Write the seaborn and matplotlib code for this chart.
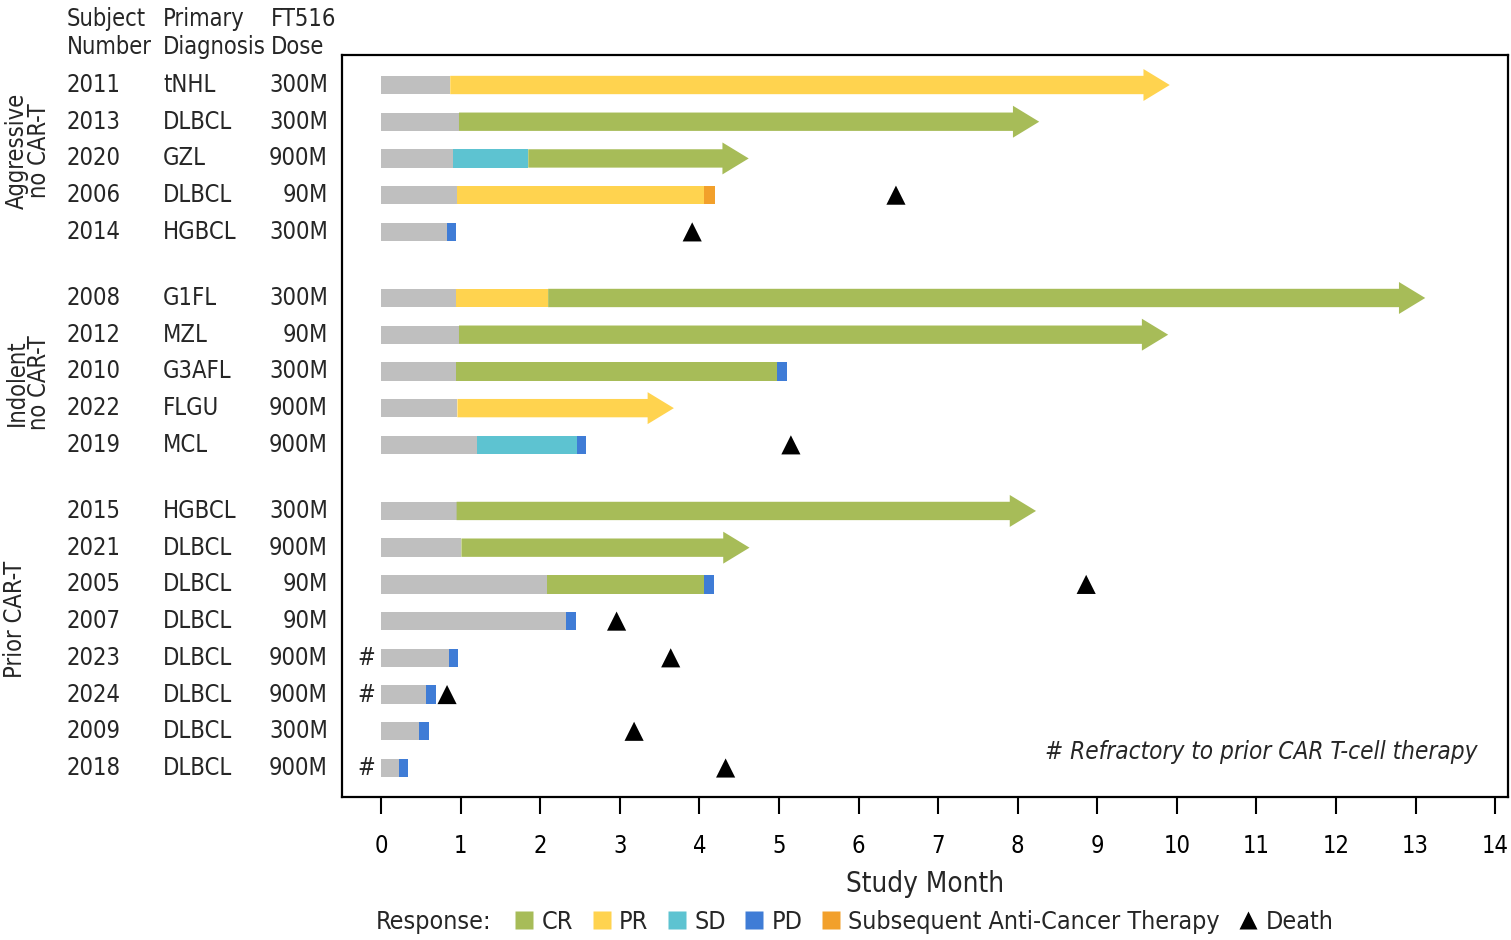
import matplotlib
matplotlib.use("Agg")
import matplotlib.pyplot as plt
import matplotlib.transforms as mtransforms
from matplotlib.patches import Polygon, Rectangle
from matplotlib.lines import Line2D
from matplotlib import font_manager
import seaborn as sns
import pandas as pd

# ---- data -------------------------------------------------------------
subjects = ["2011", "2013", "2020", "2006", "2014",
            "2008", "2012", "2010", "2022", "2019",
            "2015", "2021", "2005", "2007", "2023", "2024", "2009", "2018"]
diagnosis = ["tNHL", "DLBCL", "GZL", "DLBCL", "HGBCL",
             "G1FL", "MZL", "G3AFL", "FLGU", "MCL",
             "HGBCL", "DLBCL", "DLBCL", "DLBCL", "DLBCL", "DLBCL", "DLBCL", "DLBCL"]
dose = ["300M", "300M", "900M", "90M", "300M",
        "300M", "90M", "300M", "900M", "900M",
        "300M", "900M", "90M", "90M", "900M", "900M", "300M", "900M"]
cohort = [0] * 5 + [1] * 5 + [2] * 8
cohort_names = ["Aggressive\nno CAR-T", "Indolent\nno CAR-T", "Prior CAR-T"]

# time on study before first assessment (months)
pre_response = [0.87, 0.98, 0.91, 0.95, 0.83,
                0.94, 0.98, 0.94, 0.96, 1.20,
                0.95, 1.01, 2.08, 2.32, 0.85, 0.57, 0.48, 0.22]
# response course per subject: (state, end month)
course = [
    [("PR", 9.91)],
    [("CR", 8.27)],
    [("SD", 1.85), ("CR", 4.62)],
    [("PR", 4.06), ("ACT", 4.20)],
    [("PD", 0.94)],
    [("PR", 2.10), ("CR", 13.12)],
    [("CR", 9.89)],
    [("CR", 4.97), ("PD", 5.10)],
    [("PR", 3.68)],
    [("SD", 2.46), ("PD", 2.58)],
    [("CR", 8.23)],
    [("CR", 4.63)],
    [("CR", 4.06), ("PD", 4.18)],
    [("PD", 2.45)],
    [("PD", 0.97)],
    [("PD", 0.69)],
    [("PD", 0.60)],
    [("PD", 0.34)],
]
ongoing = [True, True, True, False, False,
           True, True, False, True, False,
           True, True, False, False, False, False, False, False]
death_month = [None, None, None, 6.47, 3.91,
               None, None, None, None, 5.15,
               None, None, 8.86, 2.96, 3.64, 0.83, 3.18, 4.33]
refractory = [False] * 14 + [True, True, False, True]

colors = {"pre": "#BFBFBF", "CR": "#A7BC58", "PR": "#FFD34F", "SD": "#5DC3D1",
          "PD": "#3F7CD6", "ACT": "#F2A02B"}
legend_labels = [("CR", "CR"), ("PR", "PR"), ("SD", "SD"), ("PD", "PD"),
                 ("ACT", "Subsequent Anti-Cancer Therapy")]

# ---- fonts --------------------------------------------------------------
sns.set_style("white")
available = {f.name for f in font_manager.fontManager.ttflist}
if "Liberation Sans Narrow" in available:
    base_family = ["Liberation Sans Narrow", "DejaVu Sans"]
    stretch = "normal"
else:
    base_family = ["DejaVu Sans"]
    stretch = "condensed"
plt.rcParams["font.family"] = base_family
plt.rcParams["font.stretch"] = stretch
plt.rcParams["xtick.major.size"] = 12
plt.rcParams["xtick.major.width"] = 1.5

W, H = 1511, 940
fig = plt.figure(figsize=(W / 100, H / 100), dpi=100)
ax = fig.add_axes([342 / W, 1 - 797 / H, (1508 - 342) / W, (797 - 55) / H])

group_gap = 0.8
ypos = []
y = 0.0
for i, c in enumerate(cohort):
    if i > 0 and c != cohort[i - 1]:
        y += group_gap
    ypos.append(y)
    y += 1.0

bar_h = 0.5
head_h = 0.87
head_len = 0.33

for i, yy in enumerate(ypos):
    ax.add_patch(Rectangle((0, yy - bar_h / 2), pre_response[i], bar_h,
                           color=colors["pre"], lw=0))
    start = pre_response[i]
    for k, (state, end) in enumerate(course[i]):
        last = k == len(course[i]) - 1
        if last and ongoing[i]:
            base = end - head_len
            ax.add_patch(Polygon([(start, yy - bar_h / 2), (base, yy - bar_h / 2),
                                  (base, yy - head_h / 2), (end, yy),
                                  (base, yy + head_h / 2), (base, yy + bar_h / 2),
                                  (start, yy + bar_h / 2)],
                                 closed=True, color=colors[state], lw=0))
        else:
            ax.add_patch(Rectangle((start, yy - bar_h / 2), end - start, bar_h,
                                   color=colors[state], lw=0))
        start = end

deaths = pd.DataFrame({"month": [d for d in death_month if d is not None],
                       "y": [ypos[i] for i, d in enumerate(death_month) if d is not None]})
sns.scatterplot(data=deaths, x="month", y="y", marker="^", s=190, color="black",
                edgecolor="none", ax=ax, legend=False, zorder=5)

for i, r in enumerate(refractory):
    if r:
        ax.text(-0.19, ypos[i], "#", ha="center", va="center", fontsize=17)

ax.text(13.78, 18.16, "# Refractory to prior CAR T-cell therapy", ha="right",
        va="center", fontsize=17.5, style="italic")

ax.set_xlim(-0.49, 14.16)
ax.set_ylim(19.39, -0.817)
ax.set_xticks(range(0, 15))
ax.set_xticklabels([str(v) for v in range(0, 15)], fontsize=17)
ax.set_yticks([])
ax.tick_params(axis="x", which="major", direction="out", length=12, width=1.5,
               pad=14.5, bottom=True, colors="black")
for s in ax.spines.values():
    s.set_visible(True)
    s.set_color("black")
    s.set_linewidth(1.6)
ax.set_xlabel("Study Month", fontsize=20, labelpad=9)
ax.set_ylabel("")

# ---- row table ----------------------------------------------------------
tf = mtransforms.blended_transform_factory(fig.transFigure, ax.transData)
col_subject = 67 / W
col_diag = 163 / W
col_dose_hdr = 271 / W
col_dose = 328 / W
fs = 17
for i, yy in enumerate(ypos):
    ax.text(col_subject, yy, subjects[i], transform=tf, ha="left", va="center",
            fontsize=fs, clip_on=False)
    ax.text(col_diag, yy, diagnosis[i], transform=tf, ha="left", va="center",
            fontsize=fs, clip_on=False)
    ax.text(col_dose, yy, dose[i], transform=tf, ha="right", va="center",
            fontsize=fs, clip_on=False)

hdr1, hdr2 = -1.80, -1.03
for x, a, b in [(col_subject, "Subject", "Number"),
                (col_diag, "Primary", "Diagnosis"),
                (col_dose_hdr, "FT516", "Dose")]:
    ax.text(x, hdr1, a, transform=tf, ha="left", va="center", fontsize=fs, clip_on=False)
    ax.text(x, hdr2, b, transform=tf, ha="left", va="center", fontsize=fs, clip_on=False)

group_x = [28 / W, 28 / W, 15 / W]
group_shift = [-0.2, 0.3, -0.55]
for g, name in enumerate(cohort_names):
    ys = [ypos[i] for i, c in enumerate(cohort) if c == g]
    ax.text(group_x[g], (min(ys) + max(ys)) / 2 + group_shift[g], name,
            transform=tf, rotation=90, ha="center", va="center", fontsize=17,
            linespacing=0.9, clip_on=False)

# ---- legend -------------------------------------------------------------
fig.text(376 / W, 1 - 922 / H, "Response:", ha="left", va="center", fontsize=18)
handles = [Line2D([], [], marker="s", linestyle="none", markersize=13,
                  markerfacecolor=colors[k], markeredgecolor="none", label=lab)
           for k, lab in legend_labels]
handles.append(Line2D([], [], marker="^", linestyle="none", markersize=13,
                      markerfacecolor="black", markeredgecolor="none", label="Death"))
fig.legend(handles=handles, loc="center left", bbox_to_anchor=(513 / W, 1 - 922 / H),
           ncol=6, frameon=False, fontsize=18, handlelength=0.9, handletextpad=0.25,
           columnspacing=0.68, borderaxespad=0, borderpad=0)

fig.savefig("out.png", dpi=100)
